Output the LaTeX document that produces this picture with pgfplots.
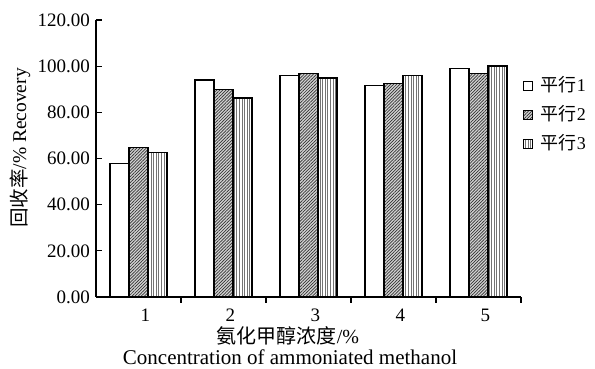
\documentclass[border=0pt]{standalone}
\usepackage{pgfplots}
\pgfplotsset{compat=1.18}
\usepackage{fontspec}
\setmainfont{Liberation Serif}
\newfontfamily\cjk{Noto Sans CJK SC}
\usetikzlibrary{patterns.meta}
\pgfplotstableread{
x p1 p2 p3
1 57.9 64.9 62.5
2 94.0 90.0 86.2
3 96.0 96.9 94.9
4 91.7 92.4 96.0
5 98.9 96.9 100.1
}\datatable
\begin{document}
\fontsize{18}{21}\selectfont
\begin{tikzpicture}
\useasboundingbox (-96pt,-72pt) rectangle (499pt,297pt);
\begin{axis}[
  at={(0pt,0pt)}, anchor=south west,
  scale only axis, width=425pt, height=277pt,
  xmin=0.5, xmax=5.5, ymin=0, ymax=120,
  axis x line=bottom, axis y line=left,
  axis line style={-, line width=1.2pt},
  ytick={0,20,...,120},
  yticklabel style={/pgf/number format/fixed, /pgf/number format/fixed zerofill, /pgf/number format/precision=2},
  /pgf/number format/assume math mode=true,
  xtick={1,2,3,4,5},
  xticklabel style={xshift=7pt},
  minor xtick={1.5,2.5,3.5,4.5,5.5},
  major x tick style={draw=none},
  minor tick length=6pt, major tick length=6pt,
  tick align=inside,
  tick style={line width=1.2pt, black},
  ticklabel style={font=\fontsize{19}{22}\selectfont},
  ybar=0pt, bar width=19pt,
  legend style={at={(axis description cs:1.0,0.81)}, anchor=north west, draw=none, fill=none,
    font=\fontsize{18}{21}\selectfont, row sep=7pt, column sep=6pt, inner xsep=2pt},
  legend image code/.code={\draw[#1, line width=0.8pt] (0pt,-4.5pt) rectangle (9pt,4.5pt);},
]
\addplot[draw=black, line width=1.2pt, fill=white] table[x=x,y=p1] {\datatable};
\addplot[draw=black, line width=1.2pt, fill=gray!35, postaction={pattern={Lines[angle=45,distance=2.2pt,line width=0.7pt]}, pattern color=black!80}] table[x=x,y=p2] {\datatable};
\addplot[draw=black, line width=1.2pt, fill=white, postaction={pattern={Lines[angle=90,distance=2.6pt,line width=0.6pt]}, pattern color=black!55}] table[x=x,y=p3] {\datatable};
\legend{{\cjk 平行}1,{\cjk 平行}2,{\cjk 平行}3}
\end{axis}
\node[rotate=90, font=\fontsize{19.5}{22}\selectfont] at (-76pt,149pt) {{\cjk 回收率}/\% Recovery};
\node[font=\fontsize{20}{23}\selectfont] at (192pt,-39pt) {{\cjk 氨化甲醇浓度}/\%};
\node[font=\fontsize{21}{24}\selectfont] at (194pt,-60pt) {Concentration of ammoniated methanol};
\end{tikzpicture}
\end{document}
